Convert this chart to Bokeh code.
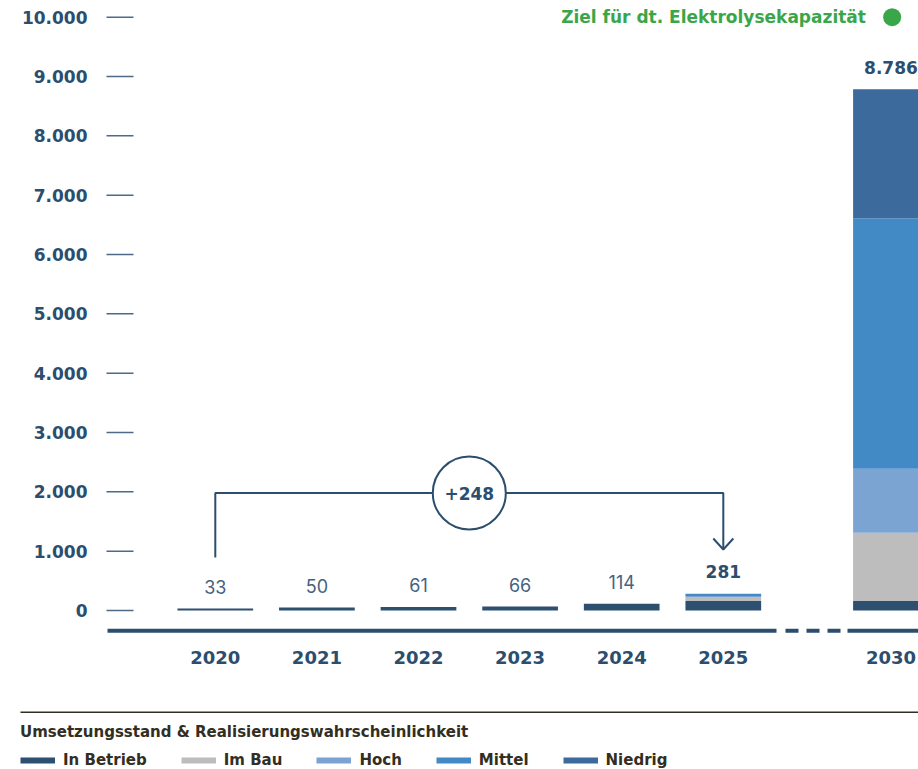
from bokeh.plotting import figure
from bokeh.models import ColumnDataSource, Range1d, Legend, LegendItem
from bokeh.embed import file_html
from bokeh.resources import INLINE
from bokeh.core.properties import value

# ---------------- data ----------------
years = ["2020", "2021", "2022", "2023", "2024", "2025", "2030"]
in_betrieb = [33, 50, 61, 66, 114, 160, 160]
im_bau = [0, 0, 0, 0, 0, 60, 1150]
hoch = [0, 0, 0, 0, 0, 25, 1080]
mittel = [0, 0, 0, 0, 0, 36, 4220]
niedrig = [0, 0, 0, 0, 0, 0, 2176]
series_names = ["In Betrieb", "Im Bau", "Hoch", "Mittel", "Niedrig"]
target_year = "2030"
target_value = 10000
target_label = "Ziel für dt. Elektrolysekapazität"
y_ticks = [0, 1000, 2000, 3000, 4000, 5000, 6000, 7000, 8000, 9000, 10000]
legend_title = "Umsetzungsstand & Realisierungswahrscheinlichkeit"

# ---------------- style / layout ----------------
colors = ["#2d5070", "#bdbdbd", "#7ba4d3", "#418ac6", "#3d6a9c"]
NAVY = "#2c4e6e"
TICK = "#4d6a88"
GREEN = "#3aa64a"
DARK = "#332e22"
BOLD_NAME = "DejaVu Sans"
BFONT = value(BOLD_NAME)
LFONT = value("Inter")

W, H = 918, 769
PX0 = 610.0      # pixel row of value 0
PXK = 59.33      # pixels per 1000
X0 = 214.8       # pixel column of first slot
SLOT = 101.6     # pixels per slot
slot_pos = [0, 1, 2, 3, 4, 5, 6.65]


def ypx(py):
    return (PX0 - py) / PXK * 1000.0


def xpx(px):
    return (px - X0) / SLOT


def fmt(v):
    return f"{v:,}".replace(",", ".")


keys = ["s0", "s1", "s2", "s3", "s4"]
series = [in_betrieb, im_bau, hoch, mittel, niedrig]
totals = [sum(v) for v in zip(*series)]
data = dict(x=slot_pos, year=years, total=totals,
            label=[fmt(t) for t in totals])
for k, s in zip(keys, series):
    data[k] = s
src = ColumnDataSource(data)

p = figure(width=W, height=H, x_range=Range1d(xpx(0), xpx(W)),
           y_range=Range1d(ypx(H), ypx(0)), x_axis_type=None, y_axis_type=None,
           output_backend="svg", toolbar_location=None, min_border=0)
p.grid.visible = False
p.outline_line_color = None
p.background_fill_color = "white"

# y ticks + labels
p.segment(x0=[xpx(106)] * len(y_ticks), x1=[xpx(133)] * len(y_ticks),
          y0=y_ticks, y1=y_ticks, line_color=TICK, line_width=1.5)
p.text(x=[xpx(87)] * len(y_ticks), y=y_ticks, text=[fmt(t) for t in y_ticks],
       text_align="right", text_baseline="middle", text_font=BFONT,
       text_font_size="17px", text_font_style="bold", text_color=NAVY)

# stacked bars
p.vbar_stack(keys, x="x", width=75.7 / SLOT, color=colors, line_color=None,
             source=src)

# value labels
n = len(years)
reg = ColumnDataSource(dict(x=slot_pos[:n - 2], y=totals[:n - 2],
                            t=data["label"][:n - 2]))
bold = ColumnDataSource(dict(x=slot_pos[n - 2:], y=totals[n - 2:],
                             t=data["label"][n - 2:]))
p.text(x="x", y="y", text="t", source=reg, y_offset=-22, text_align="center",
       text_baseline="middle", text_font=LFONT, text_font_size="18px",
       text_color="#45627f")
p.text(x="x", y="y", text="t", source=bold, y_offset=-22, text_align="center",
       text_baseline="middle", text_font=BFONT, text_font_size="17px",
       text_font_style="bold", text_color=NAVY)

# baseline (with break before 2030)
yb = ypx(630.3)
p.segment(x0=[xpx(107)], x1=[xpx(776)], y0=[yb], y1=[yb], line_color=NAVY,
          line_width=4)
p.segment(x0=[xpx(785)], x1=[xpx(840)], y0=[yb], y1=[yb], line_color=NAVY,
          line_width=4, line_dash="13 8")
p.segment(x0=[xpx(847)], x1=[xpx(W + 5)], y0=[yb], y1=[yb], line_color=NAVY,
          line_width=4)

# x labels
p.text(x=slot_pos, y=[ypx(657)] * n, text=years, text_align="center",
       text_baseline="middle", text_font=BFONT, text_font_size="18px",
       text_font_style="bold", text_color=NAVY)

# growth bracket 2020 -> 2025
xa, xb = slot_pos[0], slot_pos[5]
ylev = ypx(492.5)
p.line(x=[xa, xa, xb, xb], y=[ypx(557), ylev, ylev, ypx(549)],
       line_color=NAVY, line_width=2)
dx = 10 / SLOT
p.line(x=[xb - dx, xb, xb + dx], y=[ypx(538), ypx(549), ypx(538)],
       line_color=NAVY, line_width=2)
p.scatter(x=[(xa + xb) / 2], y=[ylev], marker="circle", size=73,
          fill_color="white", line_color=NAVY, line_width=2)
p.text(x=[(xa + xb) / 2], y=[ylev], text=[f"+{totals[5] - totals[0]}"],
       text_align="center", text_baseline="middle", text_font=BFONT,
       text_font_size="17px", text_font_style="bold", text_color=NAVY)

# target marker
tx = slot_pos[years.index(target_year)]
p.scatter(x=[tx + 1.2 / SLOT], y=[target_value], marker="circle", size=18,
          fill_color=GREEN, line_color=None)
p.text(x=[tx], y=[target_value], text=[target_label], x_offset=-25,
       text_align="right", text_baseline="middle", text_font=BFONT,
       text_font_size="17px", text_font_style="bold", text_color=GREEN)

# separator line
ys = ypx(711.7)
p.segment(x0=[xpx(20)], x1=[xpx(W + 5)], y0=[ys], y1=[ys], line_color=DARK,
          line_width=1.5)

# legend (swatch renderers hold points outside the visible range)
items = []
for name, c in zip(series_names, colors):
    r = p.line(x=[-50, -49], y=[0, 0], line_color=c, line_width=6)
    items.append(LegendItem(label=name, renderers=[r]))
legend = Legend(items=items, orientation="horizontal", location=(20, 0),
                title=legend_title, title_text_font=BOLD_NAME,
                title_text_font_size="15px", title_text_font_style="bold",
                title_text_color=DARK, title_standoff=10,
                label_text_font=BOLD_NAME, label_text_font_size="15px",
                label_text_font_style="bold", label_text_color=DARK,
                glyph_width=35, glyph_height=16, label_standoff=8, spacing=34,
                padding=0, margin=0, border_line_alpha=0,
                background_fill_alpha=0)
p.add_layout(legend, "center")

open("out.html", "w").write(file_html(p, INLINE))
